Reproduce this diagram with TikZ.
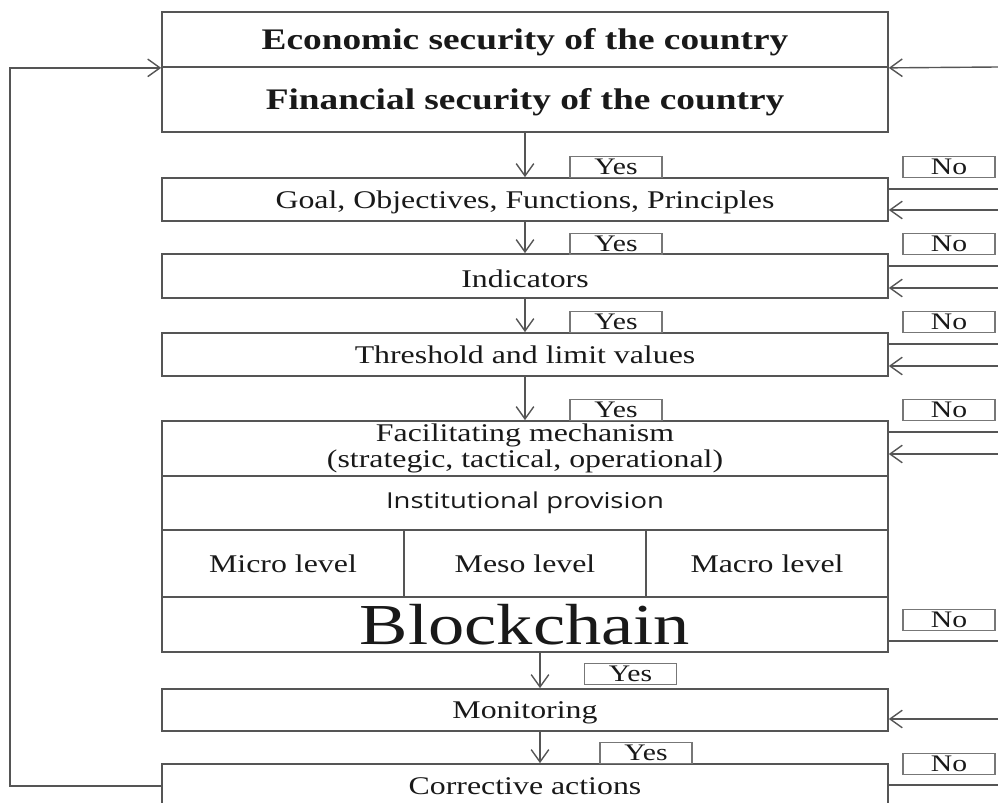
\documentclass[tikz,border=0pt]{standalone}
\usepackage{fontspec}
\usepackage{graphicx}
\setmainfont{Liberation Serif}
\newfontfamily\instfont{Open Sans}
\usetikzlibrary{arrows.meta}
\definecolor{linegray}{RGB}{85,85,85}
\definecolor{txtblack}{RGB}{25,25,25}
\newcommand{\wide}[1]{\scalebox{1.25}[1]{#1}}
\newcommand{\low}[1]{\raisebox{-0.06cm}[\height][\depth]{#1}}

\begin{document}
\begin{tikzpicture}[x=0.02cm, y=-0.02cm,
  box/.style={draw=linegray, line width=1pt, minimum width=14.52cm, inner sep=0pt, text=txtblack, font=\fontsize{14.5}{15}\selectfont},
  tag/.style={draw=linegray!80, line width=0.6pt, minimum width=1.84cm, minimum height=0.42cm, inner sep=0pt, text=txtblack, font=\fontsize{13.5}{14}\selectfont},
  arr/.style={draw=linegray, line width=0.8pt, -{Straight Barb[length=7pt,width=10pt]}},
  ln/.style={draw=linegray, line width=0.8pt}]
  \useasboundingbox (0,0) rectangle (998,803);

  % main column
  \node[box, minimum height=1.1cm] (econ) at (525,39.5) {\low{\wide{\bfseries\fontsize{17}{18}\selectfont Economic security of the country}}};
  \node[box, minimum height=1.3cm] (fin) at (525,99.5) {\low{\wide{\bfseries\fontsize{17}{18}\selectfont Financial security of the country}}};
  \node[box, minimum height=0.86cm] (goal) at (525,199.5) {\low{\wide{Goal, Objectives, Functions, Principles}}};
  \node[box, minimum height=0.88cm] (ind) at (525,276) {\low{\wide{Indicators}}};
  \node[box, minimum height=0.86cm] (thr) at (525,354.5) {\wide{Threshold and limit values}};

  % facilitating mechanism block
  \node[box, minimum height=1.1cm, align=center] (fac) at (525,448.5) {\wide{Facilitating mechanism}\\\wide{(strategic, tactical, operational)}};
  \node[box, minimum height=1.08cm, font=\instfont\fontsize{12.5}{14}\selectfont] (inst) at (525,503) {\wide{Institutional provision}};
  \node[box, minimum width=4.84cm, minimum height=1.34cm] (micro) at (283,563.5) {\wide{Micro level}};
  \node[box, minimum width=4.84cm, minimum height=1.34cm] (meso) at (525,563.5) {\wide{Meso level}};
  \node[box, minimum width=4.84cm, minimum height=1.34cm] (macro) at (767,563.5) {\wide{Macro level}};
  \node[box, minimum height=1.1cm, font=\fontsize{33}{34}\selectfont] (block) at (525,624.5) {\wide{Blockchain}};

  \node[box, minimum height=0.84cm] (mon) at (525,710) {\low{\wide{Monitoring}}};
  \node[box, minimum height=0.88cm] (corr) at (525,786) {\wide{Corrective actions}};

  % Yes / No tags
  \node[tag] (yes1) at (616,167) {\wide{Yes}};
  \node[tag] (yes2) at (616,244) {\wide{Yes}};
  \node[tag] (yes3) at (616,322) {\wide{Yes}};
  \node[tag] (yes4) at (616,410) {\wide{Yes}};
  \node[tag] (yes5) at (630.5,674) {\wide{Yes}};
  \node[tag] (yes6) at (646,753) {\wide{Yes}};
  \node[tag] (no1) at (949,167) {\wide{No}};
  \node[tag] (no2) at (949,244) {\wide{No}};
  \node[tag] (no3) at (949,322) {\wide{No}};
  \node[tag] (no4) at (949,410) {\wide{No}};
  \node[tag] (no5) at (949,620) {\wide{No}};
  \node[tag] (no6) at (949,764) {\wide{No}};

  % downward flow
  \draw[arr] (fin) -- (goal);
  \draw[arr] (goal) -- (ind);
  \draw[arr] (ind) -- (thr);
  \draw[arr] (thr) -- (fac);
  \draw[arr] ([xshift=0.3cm]block.south) -- ([xshift=0.3cm]mon.north);
  \draw[arr] ([xshift=0.3cm]mon.south) -- ([xshift=0.3cm]corr.north);

  % right side returns
  \coordinate (econ-in) at (998,67);
  \coordinate (goal-out) at (998,189);
  \coordinate (goal-in) at (998,210);
  \coordinate (ind-out) at (998,266);
  \coordinate (ind-in) at (998,288);
  \coordinate (thr-out) at (998,344);
  \coordinate (thr-in) at (998,366);
  \coordinate (fac-out) at (998,432);
  \coordinate (fac-in) at (998,454);
  \coordinate (block-out) at (998,641);
  \coordinate (mon-in) at (998,719);
  \coordinate (corr-out) at (998,785);
  \draw[arr] (econ-in) -- (econ.south east);
  \draw[ln] (goal-out -| goal.east) -- (goal-out);
  \draw[arr] (goal-in) -- (goal-in -| goal.east);
  \draw[ln] (ind-out -| ind.east) -- (ind-out);
  \draw[arr] (ind-in) -- (ind-in -| ind.east);
  \draw[ln] (thr-out -| thr.east) -- (thr-out);
  \draw[arr] (thr-in) -- (thr-in -| thr.east);
  \draw[ln] (fac-out -| fac.east) -- (fac-out);
  \draw[arr] (fac-in) -- (fac-in -| fac.east);
  \draw[ln] (block-out -| block.east) -- (block-out);
  \draw[arr] (mon-in) -- (mon-in -| mon.east);
  \draw[ln] (corr-out -| corr.east) -- (corr-out);

  % feedback loop on the left
  \coordinate (loop) at (10,786);
  \draw[arr] (corr.west) -- (loop) |- (econ.south west);
\end{tikzpicture}
\end{document}
